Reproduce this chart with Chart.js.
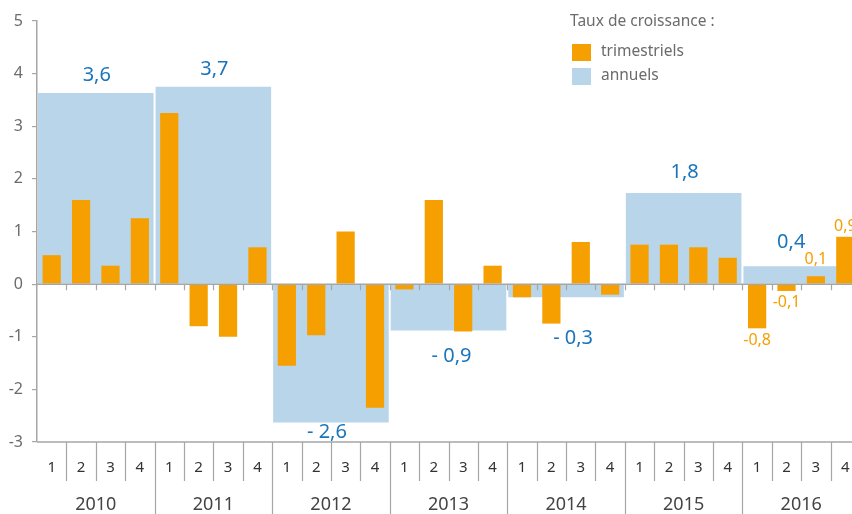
<!DOCTYPE html>
<html>
<head>
<meta charset="utf-8">
<script src="https://cdn.jsdelivr.net/npm/chart.js@4.4.0/dist/chart.umd.min.js"></script>
<style>
html, body { margin: 0; padding: 0; overflow: hidden; background: #fff; }
#wrap { width: 862px; height: 514px; }
</style>
</head>
<body>
<div id="wrap"><canvas id="croissance"></canvas></div>
<script>
var years = ['2010', '2011', '2012', '2013', '2014', '2015', '2016']
var quarters = ['1', '2', '3', '4']
var trimestriels = [0.55, 1.6, 0.35, 1.25, 3.25, -0.8, -1.0, 0.7, -1.55, -0.97, 1.0, -2.35,
    -0.1, 1.6, -0.9, 0.35, -0.25, -0.75, 0.8, -0.2, 0.75, 0.75, 0.7, 0.5, -0.84, -0.13, 0.15, 0.9]
var annuels = [3.63, 3.75, -2.63, -0.88, -0.25, 1.73, 0.34]
var annuelsTexte = ['3,6', '3,7', '- 2,6', '- 0,9', '- 0,3', '1,8', '0,4']
var trimTexte = ['', '', '', '', '', '', '', '', '', '', '', '', '', '', '', '', '', '', '', '',
    '', '', '', '', '-0,8', '-0,1', '0,1', '0,9']

// pixel nudges for the value labels (x, y from bar end)
var decalAnnuels = [[1, -18], [1, -17], [-4, 10], [3, 26], [7, 41], [1, -21], [-10, -24]]
var decalTrim = [12, 11.5, -17, -10]

var ORANGE = '#f5a000'
var BLEU = '#b9d5e9'
var BLEU_TEXTE = '#1b75bb'
var GRIS = '#a6a6a6'
var FONT = '"Noto Sans", sans-serif'

var quarterLabels = []
years.forEach(function (y) {
    quarters.forEach(function (q) { quarterLabels.push(y + '-' + q) })
})

var decor = {
    id: 'decor',
    afterDatasetsDraw: function (chart) {
        var c = chart.ctx, a = chart.chartArea
        var xq = chart.scales.xq, y = chart.scales.y
        var step = xq.width / quarterLabels.length
        var y0 = y.getPixelForValue(0)
        c.save()
        c.strokeStyle = GRIS
        c.lineWidth = 1.5
        c.beginPath()
        c.moveTo(a.left, y0); c.lineTo(a.right, y0)
        c.moveTo(a.left, a.bottom); c.lineTo(a.right, a.bottom)
        c.stroke()
        c.lineWidth = 1.2
        c.beginPath()
        for (var i = 1; i < quarterLabels.length; i++) {
            var bx = Math.round(xq.getPixelForValue(i) - step / 2) + 0.5
            c.moveTo(bx, y0); c.lineTo(bx, y0 + 6)
            if (i % 4 === 0) {
                c.moveTo(bx, a.bottom); c.lineTo(bx, chart.height)
            } else {
                c.moveTo(bx, a.bottom); c.lineTo(bx, a.bottom + 39)
            }
        }
        c.stroke()

        c.textAlign = 'center'
        c.textBaseline = 'middle'
        c.font = '15px ' + FONT
        c.fillStyle = '#333'
        quarterLabels.forEach(function (l, i) {
            c.fillText(l.split('-')[1], xq.getPixelForValue(i), a.bottom + 26)
        })
        c.font = '18px ' + FONT
        c.fillStyle = '#444'
        years.forEach(function (yr, i) {
            var cx = xq.getPixelForValue(i * 4 + 1.5)
            c.fillText(yr, cx, a.bottom + 63)
        })

        // annual value labels
        var metaA = chart.getDatasetMeta(1)
        c.font = '20px ' + FONT
        c.fillStyle = BLEU_TEXTE
        metaA.data.forEach(function (bar, i) {
            var d = decalAnnuels[i]
            c.fillText(annuelsTexte[i], bar.x + d[0], bar.y + d[1])
        })
        // quarterly labels (2016)
        var metaQ = chart.getDatasetMeta(0)
        c.font = '16px ' + FONT
        c.fillStyle = ORANGE
        var k = 0
        metaQ.data.forEach(function (bar, i) {
            if (!trimTexte[i]) return
            c.fillText(trimTexte[i], bar.x, bar.y + decalTrim[k])
            k++
        })

        // legend
        c.textAlign = 'left'
        c.fillStyle = '#6b6b6b'
        c.font = '15.5px ' + FONT
        c.fillText('Taux de croissance :', 570, 22)
        c.fillStyle = ORANGE
        c.fillRect(572, 44, 19, 17)
        c.fillStyle = BLEU
        c.fillRect(572, 68, 19, 17)
        c.fillStyle = '#6b6b6b'
        c.fillText(chart.data.datasets[0].label, 601, 52)
        c.fillText(chart.data.datasets[1].label, 601, 76)
        c.restore()
    }
}

var ctx = document.getElementById('croissance')
var chart = new Chart(ctx, {
    type: 'bar',
    data: {
        datasets: [{
            label: 'trimestriels',
            data: trimestriels,
            xAxisID: 'xq',
            backgroundColor: ORANGE,
            grouped: false,
            barPercentage: 0.62,
            categoryPercentage: 1
        }, {
            label: 'annuels',
            data: annuels,
            xAxisID: 'xy',
            backgroundColor: BLEU,
            grouped: false,
            barPercentage: 0.983,
            categoryPercentage: 1
        }]
    },
    options: {
        responsive: true,
        maintainAspectRatio: false,
        animation: false,
        layout: { padding: { top: 21, bottom: 72, left: 0, right: 2 } },
        plugins: { legend: { display: false }, tooltip: { enabled: false } },
        scales: {
            xq: { type: 'category', labels: quarterLabels, display: false, offset: true },
            xy: { type: 'category', labels: years, display: false, offset: true },
            y: {
                min: -3,
                max: 5,
                ticks: { stepSize: 1, color: '#6b6b6b', padding: 9, font: { family: FONT, size: 16 } },
                grid: { drawOnChartArea: false, tickLength: 5, color: GRIS, lineWidth: 1.2 },
                border: { color: GRIS, width: 1.5 },
                afterFit: function (scale) { scale.width = 37 }
            }
        }
    },
    plugins: [decor]
})
</script>
</body>
</html>
